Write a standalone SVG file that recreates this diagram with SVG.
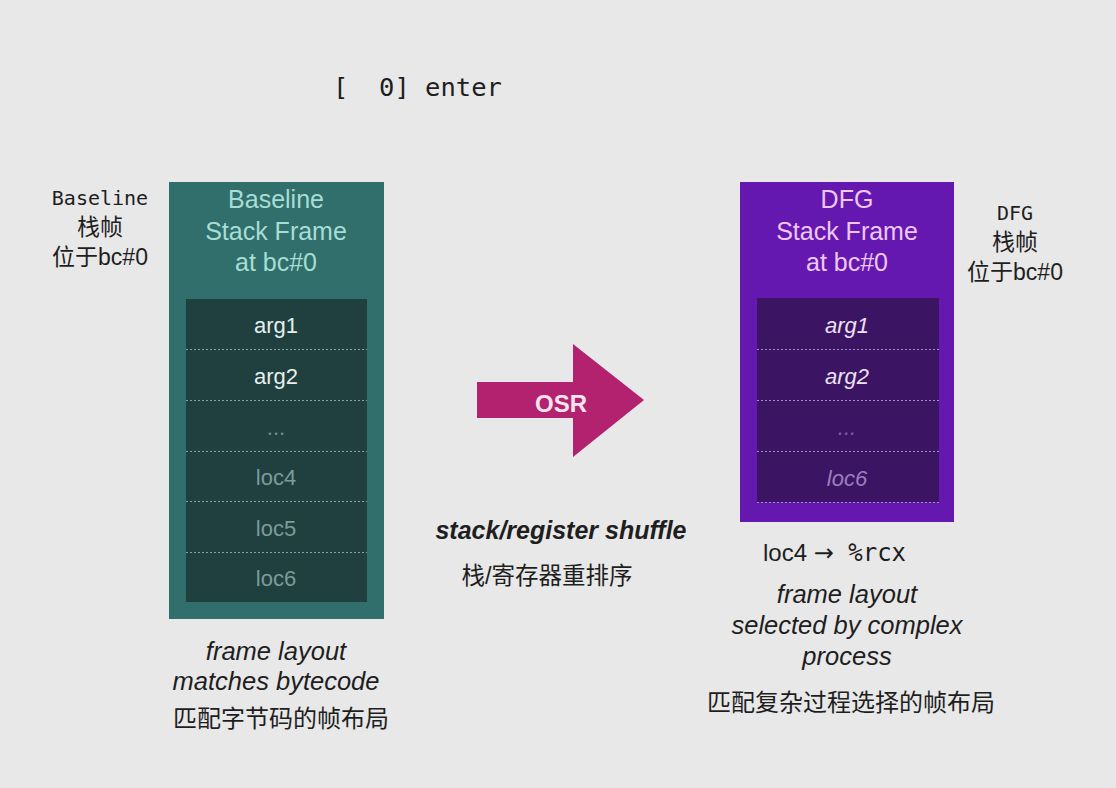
<svg xmlns="http://www.w3.org/2000/svg" width="1116" height="788" viewBox="0 0 1116 788">
<defs>
<style>
.sans{font-family:"Liberation Sans",Arial,"Noto Sans CJK SC",sans-serif}
.mono{font-family:"DejaVu Sans Mono","Liberation Mono","Noto Sans CJK SC",monospace}
.cjk{font-family:"Liberation Sans","Noto Sans CJK SC",sans-serif}
.ttl{font-size:25px;text-anchor:middle}
.row{font-size:22px;text-anchor:middle}
.div{stroke-width:1;stroke-dasharray:2 2}
.cap{font-size:25.5px;text-anchor:middle;fill:#1e1e1e}
.capc{font-size:24px;text-anchor:middle;fill:#1e1e1e}
</style>
</defs>
<rect width="1116" height="788" fill="#e8e8e8"/>

<g id="enter"><text class="mono" x="333" y="96" font-size="25.5" fill="#1e1e1e" xml:space="preserve">[  0] enter</text></g>

<g id="baseline-label" class="cjk" fill="#1e1e1e" text-anchor="middle">
<text class="mono" x="100" y="205" font-size="20">Baseline</text>
<text x="100" y="235" font-size="23">栈帧</text>
<text x="100" y="265" font-size="23">位于bc#0</text>
</g>

<g id="dfg-label" class="cjk" fill="#1e1e1e" text-anchor="middle">
<text class="mono" x="1015" y="220" font-size="20">DFG</text>
<text x="1015" y="250" font-size="23">栈帧</text>
<text x="1015" y="280" font-size="23">位于bc#0</text>
</g>

<g id="baseline-frame">
<rect x="169" y="182" width="215" height="437" fill="#306f6c"/>
<text class="sans ttl" x="276" y="208" fill="#a8ddd4">Baseline</text>
<text class="sans ttl" x="276" y="240" fill="#a8ddd4">Stack Frame</text>
<text class="sans ttl" x="276" y="271" fill="#a8ddd4">at bc#0</text>
<rect x="186" y="299" width="181" height="303" fill="#1f403f"/>
<g stroke="#7fa8a3" class="div">
<line x1="186" y1="349.5" x2="367" y2="349.5"/>
<line x1="186" y1="400.5" x2="367" y2="400.5"/>
<line x1="186" y1="451.5" x2="367" y2="451.5"/>
<line x1="186" y1="501.5" x2="367" y2="501.5"/>
<line x1="186" y1="552.5" x2="367" y2="552.5"/>
</g>
<text class="sans row" x="276" y="333" fill="#e6efed">arg1</text>
<text class="sans row" x="276" y="384" fill="#e6efed">arg2</text>
<text class="sans row" x="276" y="435" fill="#6f8e8b">...</text>
<text class="sans row" x="276" y="485" fill="#7d9b98">loc4</text>
<text class="sans row" x="276" y="536" fill="#7d9b98">loc5</text>
<text class="sans row" x="276" y="586" fill="#7d9b98">loc6</text>
</g>

<g id="dfg-frame">
<rect x="740" y="182" width="214" height="340" fill="#6518b0"/>
<text class="sans ttl" x="847" y="208" fill="#ecc9f2">DFG</text>
<text class="sans ttl" x="847" y="240" fill="#ecc9f2">Stack Frame</text>
<text class="sans ttl" x="847" y="271" fill="#ecc9f2">at bc#0</text>
<rect x="757" y="298" width="182" height="204" fill="#3b1563"/>
<g stroke="#a88ac4" class="div">
<line x1="757" y1="349.5" x2="939" y2="349.5"/>
<line x1="757" y1="400.5" x2="939" y2="400.5"/>
<line x1="757" y1="451.5" x2="939" y2="451.5"/>
<line x1="757" y1="502.5" x2="939" y2="502.5"/>
</g>
<g font-style="italic">
<text class="sans row" x="847" y="333" fill="#ece2f2">arg1</text>
<text class="sans row" x="847" y="384" fill="#ece2f2">arg2</text>
<text class="sans row" x="847" y="435" fill="#7e5aa3">...</text>
<text class="sans row" x="847" y="486" fill="#9d7ebd">loc6</text>
</g>
</g>

<g id="connectors">
<g id="osr-arrow">
<polygon points="477,382 573,382 573,344 644,400 573,457 573,418 477,418" fill="#b3226f"/>
<text class="sans" x="561" y="412" font-size="24" font-weight="bold" fill="#f4e4ee" text-anchor="middle">OSR</text>
</g>
</g>

<g id="shuffle-label">
<text class="sans" x="561" y="539" font-size="25" font-weight="bold" font-style="italic" fill="#1e1e1e" text-anchor="middle">stack/register shuffle</text>
<text class="cjk" x="547" y="584" font-size="23.5" fill="#1e1e1e" text-anchor="middle">栈/寄存器重排序</text>
</g>

<g id="baseline-caption">
<text class="sans cap" x="276" y="660" font-style="italic">frame layout</text>
<text class="sans cap" x="276" y="690" font-style="italic">matches bytecode</text>
<text class="cjk capc" x="281" y="727">匹配字节码的帧布局</text>
</g>

<g id="dfg-caption">
<text x="763" y="561" font-size="24" fill="#1e1e1e"><tspan class="sans">loc4 </tspan><tspan font-family="DejaVu Sans, sans-serif">→</tspan><tspan class="mono"> %rcx</tspan></text>
<text class="sans cap" x="847" y="603" font-style="italic">frame layout</text>
<text class="sans cap" x="847" y="634" font-style="italic">selected by complex</text>
<text class="sans cap" x="847" y="665" font-style="italic">process</text>
<text class="cjk capc" x="851" y="711">匹配复杂过程选择的帧布局</text>
</g>
</svg>
